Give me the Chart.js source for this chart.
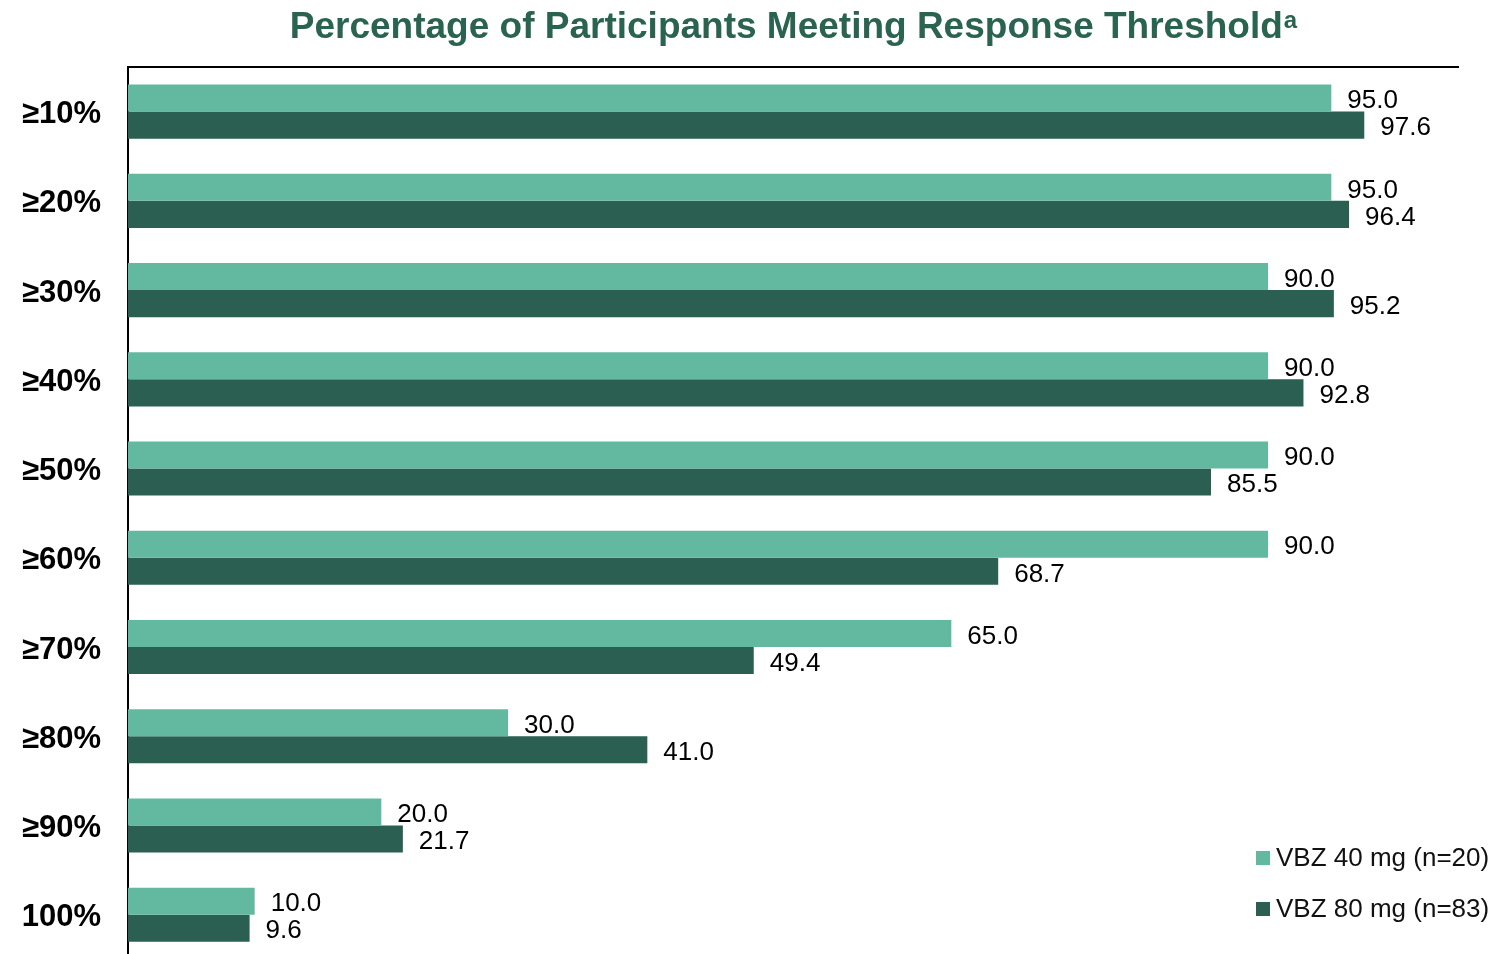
<!DOCTYPE html>
<html>
<head>
<meta charset="utf-8">
<script src="https://cdn.jsdelivr.net/npm/chart.js@4/dist/chart.umd.min.js"></script>
<style>
  html, body { margin: 0; padding: 0; background: #fff; overflow: hidden; }
  #wrap { width: 1496px; height: 1005px; }
</style>
</head>
<body>
<div id="wrap"><canvas id="chart" width="1496" height="1005"></canvas></div>
<script>
const thresholds = ['≥10%', '≥20%', '≥30%', '≥40%', '≥50%', '≥60%', '≥70%', '≥80%', '≥90%', '100%'];
const vbz40 = [95.0, 95.0, 90.0, 90.0, 90.0, 90.0, 65.0, 30.0, 20.0, 10.0];
const vbz80 = [97.6, 96.4, 95.2, 92.8, 85.5, 68.7, 49.4, 41.0, 21.7, 9.6];
const seriesNames = ['VBZ 40 mg (n=20)', 'VBZ 80 mg (n=83)'];

const LIGHT = '#63b9a0';
const DARK = '#2b5f52';
const FONT = '"Liberation Sans", Arial, sans-serif';

// title with a superscript footnote mark, centred over the plot area
const titlePlugin = {
    id: 'titleSup',
    afterDraw(chart) {
        const ctx = chart.ctx;
        const area = chart.chartArea;
        const main = 'Percentage of Participants Meeting Response Threshold';
        ctx.save();
        ctx.fillStyle = '#2a6450';
        ctx.textBaseline = 'alphabetic';
        ctx.font = 'bold 37px ' + FONT;
        const w1 = ctx.measureText(main).width;
        ctx.font = 'bold 24px ' + FONT;
        const w2 = ctx.measureText('a').width;
        const x0 = (area.left + area.right) / 2 - (w1 + w2) / 2;
        ctx.font = 'bold 37px ' + FONT;
        ctx.textAlign = 'left';
        ctx.fillText(main, x0, 38);
        ctx.font = 'bold 24px ' + FONT;
        ctx.fillText('a', x0 + w1 + 1, 28);
        ctx.restore();
    }
};

// numbers at the end of each bar
const valueLabels = {
    id: 'valueLabels',
    afterDatasetsDraw(chart) {
        const ctx = chart.ctx;
        ctx.save();
        ctx.font = '26px ' + FONT;
        ctx.fillStyle = '#000';
        ctx.textAlign = 'left';
        ctx.textBaseline = 'middle';
        chart.data.datasets.forEach((ds, i) => {
            chart.getDatasetMeta(i).data.forEach((bar, j) => {
                ctx.fillText(ds.data[j].toFixed(1), bar.x + 16, bar.y + 3);
            });
        });
        ctx.restore();
    }
};

// legend sitting in the lower right corner of the plot
const cornerLegend = {
    id: 'cornerLegend',
    afterDraw(chart) {
        const ctx = chart.ctx;
        ctx.save();
        ctx.font = '26px ' + FONT;
        ctx.textBaseline = 'middle';
        ctx.textAlign = 'left';
        chart.data.datasets.forEach((ds, i) => {
            const y = 858 + i * 51;
            ctx.fillStyle = ds.backgroundColor;
            ctx.fillRect(1256, y - 7, 14, 14);
            ctx.fillStyle = '#111';
            ctx.fillText(ds.label, 1276, y + 1);
        });
        ctx.restore();
    }
};

new Chart(document.getElementById('chart'), {
    type: 'bar',
    data: {
        labels: thresholds,
        datasets: [
            { label: seriesNames[0], data: vbz40, backgroundColor: LIGHT },
            { label: seriesNames[1], data: vbz80, backgroundColor: DARK }
        ]
    },
    options: {
        indexAxis: 'y',
        responsive: false,
        animation: false,
        layout: { padding: { top: 67, right: 38, bottom: 2, left: 0 } },
        datasets: {
            bar: { categoryPercentage: 0.606, barPercentage: 1.0, borderWidth: 0 }
        },
        scales: {
            x: {
                position: 'top',
                min: 0,
                max: 105,
                grid: { display: false, drawTicks: false },
                border: { display: true, color: '#000', width: 2 },
                ticks: { display: false },
                afterFit: s => { s.height = 0; }
            },
            y: {
                grid: { display: false, drawTicks: false },
                border: { display: true, color: '#000', width: 2 },
                ticks: {
                    color: '#000',
                    padding: 27,
                    labelOffset: 3,
                    font: { family: FONT, size: 31, weight: 'bold' }
                },
                afterFit: s => { s.width = 128; }
            }
        },
        plugins: {
            legend: { display: false },
            tooltip: { enabled: false },
            title: { display: false }
        }
    },
    plugins: [titlePlugin, valueLabels, cornerLegend]
});
</script>
</body>
</html>
